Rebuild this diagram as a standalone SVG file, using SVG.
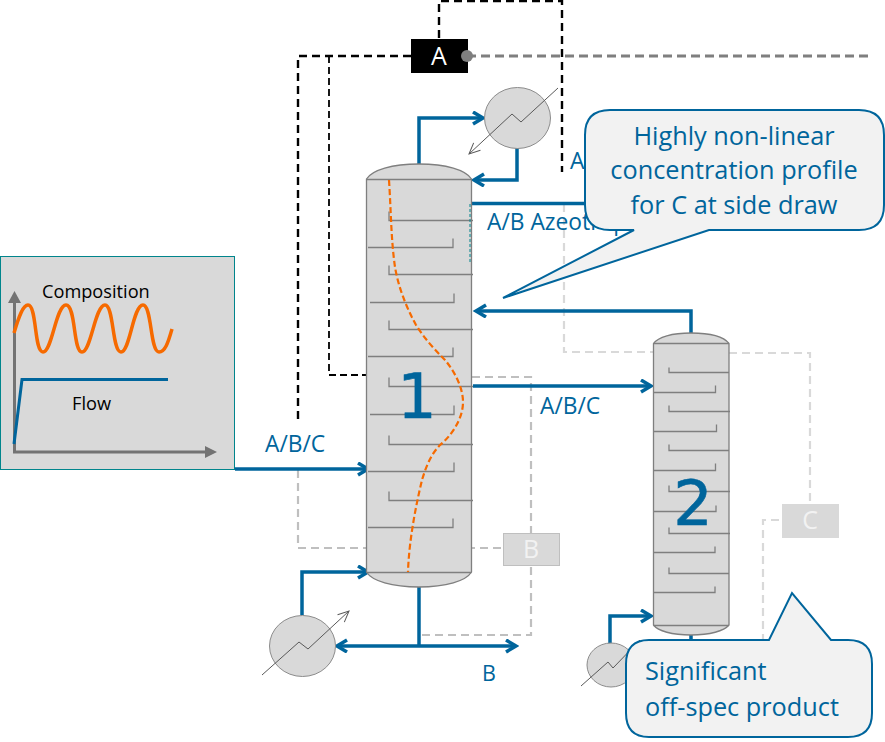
<svg xmlns="http://www.w3.org/2000/svg" width="885" height="742" viewBox="0 0 885 742">
<style>
text{font-family:"Open Sans","Noto Sans","Liberation Sans",sans-serif}
.blue{fill:#00659c}
.num{font-family:"DejaVu Sans",sans-serif;font-size:62px;fill:#00659c;stroke:#00659c;stroke-width:.6;text-anchor:middle}
.lbl{font-size:22.800px;fill:#00659c}
.pipe{fill:none;stroke:#00659c;stroke-width:3.500}
.blk{fill:none;stroke:#000;stroke-width:2.400;stroke-dasharray:8 5}
.blk2{fill:none;stroke:#000;stroke-width:1.800;stroke-dasharray:7 4}
.gry{fill:none;stroke:#bfbfbf;stroke-width:2.200;stroke-dasharray:8 5}
.lgry{fill:none;stroke:#d9d9d9;stroke-width:2.200;stroke-dasharray:8 5}
.vessel{fill:#d9d9d9;stroke:#7f7f7f;stroke-width:1.300}
.tray{fill:none;stroke:#7f7f7f;stroke-width:1.300}
.hx{fill:#d9d9d9;stroke:#8c8c8c;stroke-width:1}
.zig{fill:none;stroke:#595959;stroke-width:1}
.call{fill:#f2f2f2;stroke:#00659c;stroke-width:2}
.ctxt{font-size:25.300px;fill:#00659c}
.mid{text-anchor:middle}
.nodet{font-size:25px;text-anchor:middle}
</style>
<defs>
<marker id="ah" markerUnits="userSpaceOnUse" markerWidth="15" markerHeight="16" refX="12" refY="7" orient="auto"><path d="M2 1L12 7L2 13" fill="none" stroke="#00659c" stroke-width="3.500"/></marker>
<marker id="ta" markerUnits="userSpaceOnUse" markerWidth="14" markerHeight="14" refX="13" refY="6" orient="auto"><path d="M2 1L13 6L2 11" fill="none" stroke="#595959" stroke-width="1"/></marker>
</defs>

<g id="connectors">
<path class="blk" d="M439 38V1H562V172"/>
<path class="blk" d="M411 56H298V421"/>
<path class="blk2" d="M329 56V375H366"/>
<path d="M467 56H868" fill="none" stroke="#7f7f7f" stroke-width="3" stroke-dasharray="9 5"/>
<path class="lgry" d="M564 204V352H654M729 353H810V504"/>
<path class="lgry" d="M779 520H763V640"/>
<path class="gry" d="M298 470V548H503"/>
<path class="gry" d="M472 377H531V533M531 567V635H418"/>
<path class="pipe" d="M419 164V118H483" marker-end="url(#ah)"/>
<path class="pipe" d="M517 148V180H474" marker-end="url(#ah)"/>
<path class="pipe" d="M470 203.500H590"/>
<path class="pipe" d="M691 333V311H476" marker-end="url(#ah)"/>
<path class="pipe" d="M473 386H651" marker-end="url(#ah)"/>
<path class="pipe" d="M235 469H368" marker-end="url(#ah)"/>
<path class="pipe" d="M302 615V572H368" marker-end="url(#ah)"/>
<path class="pipe" d="M419 587V646"/>
<path class="pipe" d="M419 646H337" marker-end="url(#ah)"/>
<path class="pipe" d="M419 646H516" marker-end="url(#ah)"/>
<path class="pipe" d="M610 644V616H651" marker-end="url(#ah)"/>
<path class="pipe" d="M691 635V642"/>
</g>

<g id="feed-chart">
<rect x="0.500" y="256.500" width="234" height="213" fill="#d9d9d9" stroke="#00858c" stroke-width="1"/>
<path d="M14.500 452V300" fill="none" stroke="#737373" stroke-width="3"/>
<path d="M8 303L14.500 291L21 303Z" fill="#737373"/>
<path d="M13 452H206" fill="none" stroke="#737373" stroke-width="3"/>
<path d="M205 446L217 452L205 458Z" fill="#737373"/>
<path d="M14 333C19 316 23 305 28 305C37 305 34 352 43 352C52 352 56 305 66 305C76 305 73 352 82 352C91 352 95 305 105 305C114 305 112 352 121 352C130 352 133 305 143 305C152 305 150 352 159 352C165 352 168 343 172 329" fill="none" stroke="#f66a00" stroke-width="3.500"/>
<path d="M14 444L22 379.500H168" fill="none" stroke="#00659c" stroke-width="3"/>
<text x="42" y="298" font-size="18.200" fill="#000">Composition</text>
<text x="72" y="410" font-size="18.200" fill="#000">Flow</text>
</g>

<g id="column-1">
<path class="vessel" d="M366.500 179C372 170 392 164 419 164C446 164 466 170 471.500 179V572C466 581 446 587 419 587C392 587 372 581 366.500 572Z"/>
<g transform="translate(0 .5)">
<path class="tray" d="M366.500 179H471.500M366.500 572H471.500"/>
<path class="tray" d="M389 211V220H473M368 247H453V238M389 265V274H473M370 302H454V293M389 320V329H473M368 356H453V347M389 377V386H473M370 414H454V405M389 435V444H473M368 471H454V462M389 491V500H473M368 527H453V518"/>
</g>
<path d="M470 204V264" fill="none" stroke="#00858c" stroke-width="1" stroke-dasharray="3 2"/>
<path d="M389 180C391 210 391 240 395 267C398 285 405 305 416 325C424 338 435 350 445 360C455 372 463 388 463 402C463 420 450 437 440 445C430 455 425 470 422 480C416 505 409 540 408 572" fill="none" stroke="#f66a00" stroke-width="2.200" stroke-dasharray="6 3"/>
<text x="417" y="418" class="num">1</text>
</g>

<g id="column-2">
<path class="vessel" d="M653.500 343.500C658 337 672 333 691 333C710 333 724 337 729 343.500V625C724 631 710 635 691 635C672 635 658 631 653.500 625Z"/>
<g transform="translate(0 .5)">
<path class="tray" d="M653.500 343H729M653.500 625H729"/>
<path class="tray" d="M669 367V372H729M654 392H715.500V385M669 405V411H730M654 431H716.500V424M669 444V450H729M654 470H715.500V463M669 485V491H730M654 511H716V505M669 527V533H730M654 552H715V546M669 567V573H729M654 592H715V586"/>
</g>
<text x="693" y="525" class="num">2</text>
</g>

<g id="exchanger-top">
<ellipse class="hx" cx="517.500" cy="118" rx="33" ry="30.500"/>
<path class="zig" d="M558 88L521 122L512 114L469 154" marker-end="url(#ta)"/>
</g>
<g id="exchanger-bottom-1">
<ellipse class="hx" cx="302.500" cy="646" rx="33" ry="30.500"/>
<path class="zig" d="M262 675L299 642L308 649L349 611" marker-end="url(#ta)"/>
</g>
<g id="exchanger-bottom-2">
<ellipse class="hx" cx="611" cy="665" rx="24" ry="22"/>
<path class="zig" d="M581 686L608 662L613 668L640 640"/>
</g>

<g id="node-a">
<rect x="411" y="39" width="57" height="34" fill="#000"/>
<text x="439" y="65" class="nodet" fill="#fff">A</text>
<circle cx="467" cy="56" r="6" fill="#7f7f7f"/>
</g>
<g id="node-b">
<rect x="503.500" y="533.500" width="56" height="32" fill="#d9d9d9" stroke="#bfbfbf" stroke-width="1"/>
<text x="531" y="558" class="nodet" fill="#f2f2f2">B</text>
</g>
<g id="node-c">
<rect x="782" y="504" width="57" height="34" fill="#d9d9d9"/>
<text x="810" y="529" class="nodet" fill="#f2f2f2">C</text>
</g>

<g id="labels">
<text x="570" y="169" class="lbl">A</text>
<text x="487" y="230" class="lbl">A/B Azeotrope</text>
<text x="265" y="452" class="lbl">A/B/C</text>
<text x="540" y="414" class="lbl">A/B/C</text>
<text x="482" y="681" font-size="21.500" class="blue">B</text>
</g>

<g id="callout-1">
<path class="call" d="M610 110H859Q884 110 884 135V205Q884 230 859 230H709L503 298L634 230H610Q585 230 585 205V135Q585 110 610 110Z"/>
<text x="734" y="145" class="ctxt mid">Highly non-linear</text>
<text x="734" y="179" class="ctxt mid">concentration profile</text>
<text x="734" y="214" class="ctxt mid">for C at side draw</text>
</g>
<g id="callout-2">
<path class="call" d="M649 640H769L792 593L831 640H848Q872 640 872 664V713Q872 737 848 737H649Q626 737 626 713V664Q626 640 649 640Z"/>
<text x="645" y="680" class="ctxt">Significant</text>
<text x="645" y="716" class="ctxt">off-spec product</text>
</g>
</svg>
